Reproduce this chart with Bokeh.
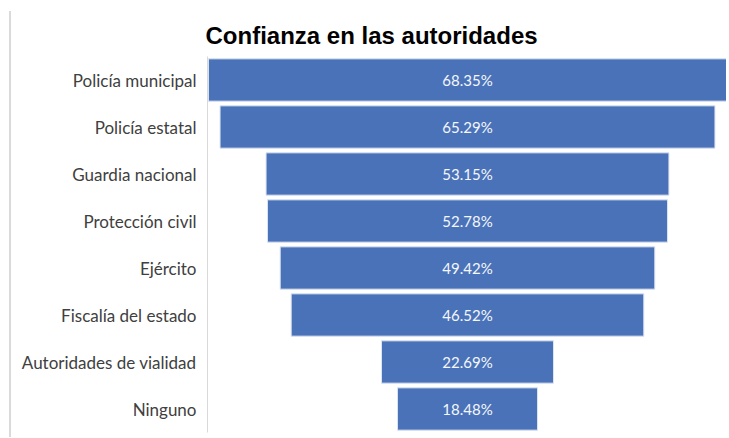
from bokeh.plotting import figure
from bokeh.models import ColumnDataSource, FactorRange, Range1d
from bokeh.core.properties import value
from bokeh.embed import file_html
from bokeh.resources import INLINE

categories = ["Policía municipal", "Policía estatal", "Guardia nacional", "Protección civil",
              "Ejército", "Fiscalía del estado", "Autoridades de vialidad", "Ninguno"]
values = [68.35, 65.29, 53.15, 52.78, 49.42, 46.52, 22.69, 18.48]
labels = ["%.2f%%" % v for v in values]

src = ColumnDataSource(dict(
    cat=categories,
    left=[-v / 2 for v in values],
    right=[v / 2 for v in values],
    zero=[0] * len(values),
    lab=labels,
))

p = figure(width=717, height=426, output_backend="svg", toolbar_location=None,
           y_range=FactorRange(*categories[::-1]), x_range=Range1d(-34.3, 34.3),
           min_border_left=196, min_border_right=1, min_border_top=45, min_border_bottom=5,
           title="Confianza en las autoridades")
p.styles = {"border-left": "2px solid #dadada", "margin-left": "9px", "margin-top": "11px"}

p.hbar(y="cat", left="left", right="right", height=0.9, source=src,
       fill_color="#4a72b8", line_color="#dce4f2", line_width=1)
p.text(x="zero", y="cat", text="lab", source=src, text_color="#f4f7fc",
       text_font=value("Lato"), text_font_size="15px",
       text_align="center", text_baseline="middle")

p.title.text_font = "Liberation Sans"
p.title.text_font_size = "24px"
p.title.text_font_style = "bold"
p.title.text_color = "black"
p.title.align = "left"
p.title.offset = -2
p.title.standoff = 15

p.xaxis.visible = False
p.xgrid.visible = False
p.ygrid.visible = False
p.outline_line_color = None

ya = p.yaxis[0]
ya.major_tick_line_color = None
ya.minor_tick_line_color = None
ya.axis_line_color = "#d9d9d9"
ya.axis_line_width = 1
ya.major_label_text_font = "Lato"
ya.major_label_text_font_size = "17px"
ya.major_label_text_color = "#404040"
ya.major_label_standoff = 5

open("out.html", "w").write(file_html(p, INLINE))
